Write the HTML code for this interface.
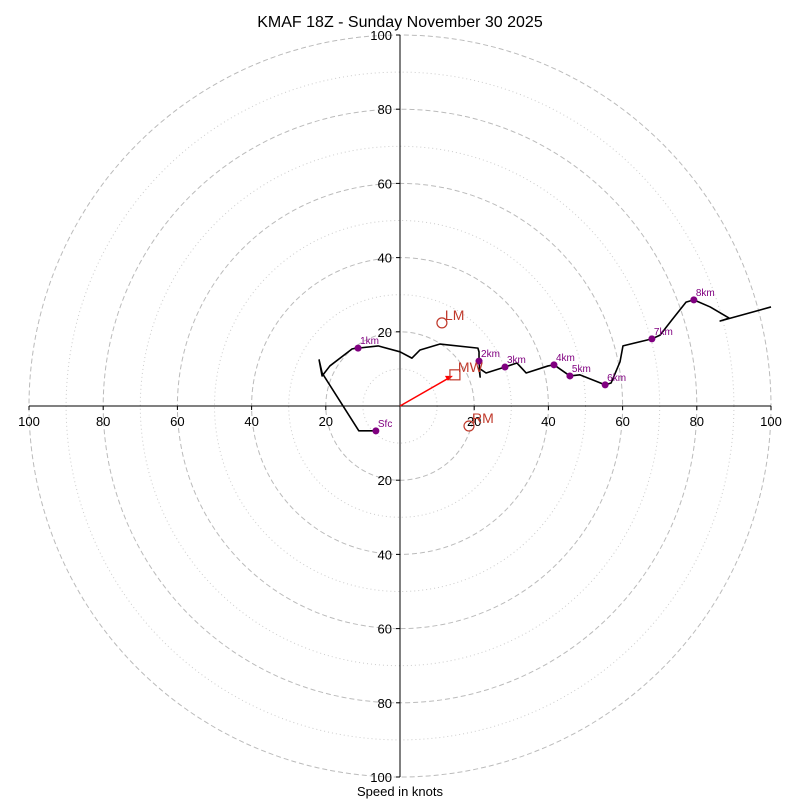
<!DOCTYPE html>
<html><head><meta charset="utf-8"><style>
body{margin:0;background:#fff}
svg{font-family:"Liberation Sans","DejaVu Sans",sans-serif}
</style></head><body>
<svg id="c" width="800" height="800" viewBox="0 0 800 800"></svg>
<script>
const ringValues=[10,20,30,40,50,60,70,80,90,100];
const tickLabels=[20,40,60,80,100];
const traceU=[-6.5,-11.1,-21.0,-21.8,-21.0,-18.9,-12.9,-11.3,-5.9,0,3.2,5.4,10.8,21.0,21.3,21.3,21.6,21.3,23.2,28.3,31.5,34.0,39.9,41.5,45.8,48.5,55.3,56.9,59.3,60.1,67.9,70.1,73.3,77.1,79.2,83.6,88.7,86.3,100];
const traceV=[-6.7,-6.7,8.9,12.4,8.1,10.8,15.4,15.6,16.2,14.6,12.9,15.1,16.7,15.6,14.6,12.1,7.8,10.2,8.9,10.5,11.6,8.9,10.8,11.1,8.1,8.4,5.7,6.2,11.9,16.2,18.1,19.1,23.2,28.0,28.6,26.7,23.7,22.9,26.7];
const levelNames=["Sfc","1km","2km","3km","4km","5km","6km","7km","8km"];
const levelU=[-6.5,-11.3,21.3,28.3,41.5,45.8,55.3,67.9,79.2];
const levelV=[-6.7,15.6,12.1,10.5,11.1,8.1,5.7,18.1,28.6];
const motionNames=["LM","RM","MW"];
const motionU=[11.3,18.6,14.8];
const motionV=[22.4,-5.4,8.4];

const cx=400,cy=406,R=371,maxV=100;
const sx=u=>cx+u*R/maxV, sy=v=>cy-v*R/maxV, sr=r=>r*R/maxV;
const svg=document.getElementById('c');
const NS='http://www.w3.org/2000/svg';
function mk(t,a,txt){const e=document.createElementNS(NS,t);for(const k in a)e.setAttribute(k,a[k]);if(txt!=null)e.textContent=txt;svg.appendChild(e);return e;}

ringValues.forEach(r=>{
 const major=r%20===0;
 const e=mk('circle',{cx,cy,r:sr(r),fill:'none',stroke:major?'#bbb':'#ccc','stroke-width':1,'stroke-dasharray':major?'5,3':'1,3'});
 
 
});
let e=mk('line',{x1:sx(-100),y1:cy,x2:sx(100),y2:cy,stroke:'#000','stroke-width':1});


e=mk('line',{x1:cx,y1:sy(100),x2:cx,y2:sy(-100),stroke:'#000','stroke-width':1});


tickLabels.forEach(t=>{
 [-1,1].forEach(s=>{
  let l=mk('text',{x:sx(s*t),y:cy+20,'text-anchor':'middle','font-size':13},t);
  
  
  mk('line',{x1:sx(s*t),y1:cy,x2:sx(s*t),y2:cy+4,stroke:'#000'});
  l=mk('text',{x:cx-8,y:sy(s*t)+5,'text-anchor':'end','font-size':13},t);
  
  
  mk('line',{x1:cx-4,y1:sy(s*t),x2:cx,y2:sy(s*t),stroke:'#000'});
 });
});
e=mk('polyline',{points:traceU.map((u,i)=>sx(u)+','+sy(traceV[i])).join(' '),fill:'none',stroke:'#000','stroke-width':1.6,'stroke-linejoin':'round'});


levelNames.forEach((n,i)=>{
 let d=mk('circle',{cx:sx(levelU[i]),cy:sy(levelV[i]),r:3.5,fill:'#800080'});
 
 
 let t=mk('text',{x:sx(levelU[i])+2,y:sy(levelV[i])-4,'font-size':10,fill:'#800080'},n);
 
 
});
// mean wind arrow
e=mk('line',{x1:cx,y1:cy,x2:sx(motionU[2])-4,y2:sy(motionV[2])+2,stroke:'red','stroke-width':1.5});


mk('polygon',{points:`${sx(motionU[2])-2},${sy(motionV[2])+1} ${sx(motionU[2])-10},${sy(motionV[2])+1} ${sx(motionU[2])-7},${sy(motionV[2])+6}`,fill:'red'});
motionNames.forEach((n,i)=>{
 const x=sx(motionU[i]),y=sy(motionV[i]);
 let m=n==='MW'?mk('rect',{x:x-5,y:y-5,width:10,height:10,fill:'none',stroke:'#c0392b','stroke-width':1.2}):mk('circle',{cx:x,cy:y,r:5,fill:'none',stroke:'#c0392b','stroke-width':1.2});
 
 
 let t=mk('text',{x:x+3,y:y-3,'font-size':14,fill:'#c0392b'},n);
 
 
});
e=mk('text',{x:400,y:27,'text-anchor':'middle','font-size':16},'KMAF 18Z - Sunday November 30 2025');


e=mk('text',{x:400,y:796,'text-anchor':'middle','font-size':13},'Speed in knots');


</script>
</body></html>
